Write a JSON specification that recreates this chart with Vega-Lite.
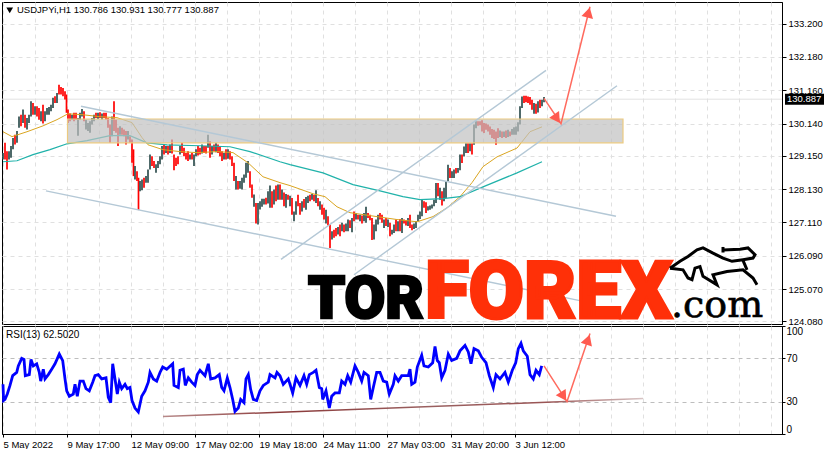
{
  "$schema": "https://vega.github.io/schema/vega-lite/v6.json",
  "background": "white",
  "padding": {"left": -4, "top": 1, "right": 0, "bottom": 0},
  "spacing": 2,
  "bounds": "flush",
  "config": {
    "view": {"stroke": "black", "strokeWidth": 1},
    "font": "Liberation Sans",
    "axis": {"title": null, "gridDash": [4, 4], "gridColor": "#e0e0e0", "gridWidth": 1, "labelColor": "black", "tickColor": "black", "domainColor": "black"}
  },
  "datasets": {
    "candles": [
      {"bar":1,"price":129.24,"price2":129.04,"side":"up"},{"bar":3,"price":129.55,"price2":129.04,"side":"down"},{"bar":5,"price":129.29,"price2":128.73,"side":"down"},{"bar":7,"price":129.29,"price2":129.04,"side":"up"},{"bar":9,"price":129.45,"price2":129.09,"side":"up"},{"bar":11,"price":129.70,"price2":129.35,"side":"up"},{"bar":13,"price":129.80,"price2":129.50,"side":"down"},{"bar":15,"price":129.91,"price2":129.55,"side":"up"},{"bar":17,"price":130.36,"price2":130.01,"side":"up"},{"bar":19,"price":130.41,"price2":130.06,"side":"down"},
      {"bar":21,"price":130.57,"price2":130.16,"side":"up"},{"bar":23,"price":130.41,"price2":130.01,"side":"down"},{"bar":25,"price":130.31,"price2":129.96,"side":"up"},{"bar":27,"price":130.41,"price2":130.16,"side":"up"},{"bar":29,"price":130.82,"price2":130.36,"side":"up"},{"bar":31,"price":130.77,"price2":130.41,"side":"down"},{"bar":33,"price":130.67,"price2":130.41,"side":"up"},{"bar":35,"price":130.67,"price2":130.36,"side":"down"},{"bar":37,"price":130.62,"price2":130.26,"side":"down"},{"bar":39,"price":130.52,"price2":130.21,"side":"up"},
      {"bar":41,"price":130.72,"price2":130.14,"side":"down"},{"bar":43,"price":130.52,"price2":130.21,"side":"up"},{"bar":45,"price":130.62,"price2":130.41,"side":"up"},{"bar":47,"price":130.65,"price2":130.41,"side":"up"},{"bar":49,"price":130.72,"price2":130.52,"side":"up"},{"bar":51,"price":130.93,"price2":130.62,"side":"up"},{"bar":53,"price":130.98,"price2":130.77,"side":"down"},{"bar":55,"price":131.08,"price2":130.77,"side":"up"},{"bar":57,"price":131.33,"price2":131.03,"side":"down"},{"bar":59,"price":131.26,"price2":131.03,"side":"down"},
      {"bar":61,"price":131.23,"price2":130.98,"side":"down"},{"bar":63,"price":131.13,"price2":130.88,"side":"down"},{"bar":64.5,"price":131.03,"price2":130.47,"side":"down"},{"bar":66,"price":130.57,"price2":130.16,"side":"down"},{"bar":68,"price":130.45,"price2":130.21,"side":"down"},{"bar":70,"price":130.41,"price2":130.26,"side":"up"},{"bar":72,"price":130.47,"price2":130.21,"side":"down"},{"bar":74,"price":130.47,"price2":130.26,"side":"down"},{"bar":76,"price":130.31,"price2":129.77,"side":"up"},{"bar":78,"price":130.47,"price2":130.26,"side":"up"},
      {"bar":80,"price":130.59,"price2":130.36,"side":"up"},{"bar":82,"price":130.52,"price2":130.21,"side":"down"},{"bar":84,"price":130.26,"price2":129.96,"side":"up"},{"bar":86,"price":130.16,"price2":129.91,"side":"up"},{"bar":88,"price":130.21,"price2":129.86,"side":"up"},{"bar":90,"price":130.31,"price2":130.11,"side":"up"},{"bar":92,"price":130.41,"price2":130.21,"side":"up"},{"bar":94,"price":130.47,"price2":130.31,"side":"down"},{"bar":96,"price":130.47,"price2":130.28,"side":"up"},{"bar":98,"price":130.49,"price2":130.31,"side":"down"},
      {"bar":100,"price":130.45,"price2":130.26,"side":"up"},{"bar":102,"price":130.47,"price2":130.31,"side":"down"},{"bar":104,"price":130.47,"price2":130.26,"side":"down"},{"bar":106,"price":130.31,"price2":130.01,"side":"down"},{"bar":108,"price":130.11,"price2":129.55,"side":"down"},{"bar":110,"price":130.36,"price2":129.75,"side":"up"},{"bar":112,"price":130.82,"price2":129.91,"side":"down"},{"bar":114,"price":130.26,"price2":129.86,"side":"down"},{"bar":116,"price":130.01,"price2":129.45,"side":"down"},{"bar":118,"price":130.06,"price2":129.80,"side":"up"},
      {"bar":120,"price":130.01,"price2":129.80,"side":"down"},{"bar":122,"price":129.96,"price2":129.75,"side":"down"},{"bar":124,"price":129.91,"price2":129.50,"side":"down"},{"bar":126,"price":129.91,"price2":129.65,"side":"up"},{"bar":128,"price":129.75,"price2":129.55,"side":"down"},{"bar":130,"price":129.65,"price2":128.94,"side":"down"},{"bar":131.5,"price":129.35,"price2":128.53,"side":"down"},{"bar":133,"price":128.84,"price2":128.43,"side":"up"},{"bar":135,"price":128.68,"price2":128.38,"side":"down"},{"bar":136.5,"price":128.48,"price2":127.49,"side":"down"},
      {"bar":138,"price":128.38,"price2":128.07,"side":"up"},{"bar":140,"price":128.43,"price2":128.10,"side":"up"},{"bar":142,"price":128.48,"price2":128.17,"side":"down"},{"bar":144,"price":128.53,"price2":128.33,"side":"up"},{"bar":146,"price":128.73,"price2":128.33,"side":"up"},{"bar":148,"price":129.19,"price2":128.73,"side":"up"},{"bar":150,"price":129.14,"price2":128.84,"side":"down"},{"bar":152,"price":128.99,"price2":128.78,"side":"down"},{"bar":154,"price":128.89,"price2":128.63,"side":"up"},{"bar":156,"price":128.99,"price2":128.78,"side":"up"},
      {"bar":158,"price":129.14,"price2":128.89,"side":"up"},{"bar":160,"price":129.45,"price2":129.04,"side":"up"},{"bar":162,"price":129.50,"price2":129.19,"side":"down"},{"bar":164,"price":129.45,"price2":129.24,"side":"up"},{"bar":166,"price":129.45,"price2":129.19,"side":"down"},{"bar":168,"price":129.50,"price2":129.24,"side":"up"},{"bar":170,"price":129.65,"price2":129.22,"side":"down"},{"bar":172,"price":129.19,"price2":128.71,"side":"down"},{"bar":174,"price":129.09,"price2":128.84,"side":"down"},{"bar":176,"price":129.14,"price2":128.89,"side":"down"},
      {"bar":178,"price":129.45,"price2":129.19,"side":"up"},{"bar":180,"price":129.55,"price2":129.24,"side":"down"},{"bar":182,"price":129.40,"price2":129.14,"side":"down"},{"bar":184,"price":129.24,"price2":129.04,"side":"down"},{"bar":186,"price":129.29,"price2":128.99,"side":"down"},{"bar":188,"price":129.19,"price2":129.04,"side":"up"},{"bar":190,"price":129.24,"price2":129.04,"side":"down"},{"bar":192,"price":129.19,"price2":128.84,"side":"up"},{"bar":194,"price":129.35,"price2":129.14,"side":"up"},{"bar":196,"price":129.45,"price2":129.16,"side":"down"},
      {"bar":198,"price":129.40,"price2":129.19,"side":"down"},{"bar":200,"price":129.50,"price2":129.22,"side":"up"},{"bar":202,"price":129.45,"price2":129.24,"side":"down"},{"bar":204,"price":129.45,"price2":129.22,"side":"down"},{"bar":206,"price":129.80,"price2":129.40,"side":"up"},{"bar":208,"price":129.60,"price2":129.09,"side":"down"},{"bar":210,"price":129.45,"price2":129.19,"side":"up"},{"bar":212,"price":129.50,"price2":129.29,"side":"down"},{"bar":214,"price":129.55,"price2":129.26,"side":"up"},{"bar":216,"price":129.50,"price2":129.24,"side":"down"},
      {"bar":218,"price":129.45,"price2":129.14,"side":"down"},{"bar":220,"price":129.29,"price2":128.99,"side":"down"},{"bar":222,"price":129.24,"price2":129.04,"side":"up"},{"bar":224,"price":129.35,"price2":129.04,"side":"down"},{"bar":226,"price":129.35,"price2":129.06,"side":"up"},{"bar":228,"price":129.29,"price2":129.04,"side":"down"},{"bar":230,"price":129.14,"price2":128.84,"side":"down"},{"bar":232,"price":128.94,"price2":128.38,"side":"down"},{"bar":234,"price":128.53,"price2":128.12,"side":"up"},{"bar":236,"price":128.38,"price2":128.12,"side":"down"},
      {"bar":238,"price":128.38,"price2":128.14,"side":"up"},{"bar":240,"price":128.48,"price2":128.12,"side":"up"},{"bar":242,"price":128.58,"price2":128.33,"side":"up"},{"bar":244,"price":128.94,"price2":128.48,"side":"up"},{"bar":246,"price":128.99,"price2":128.63,"side":"up"},{"bar":248,"price":128.68,"price2":128.17,"side":"down"},{"bar":250,"price":128.27,"price2":127.87,"side":"down"},{"bar":252,"price":127.97,"price2":127.59,"side":"up"},{"bar":254,"price":127.71,"price2":127.08,"side":"down"},{"bar":256,"price":127.71,"price2":127.05,"side":"up"},
      {"bar":258,"price":127.76,"price2":127.51,"side":"up"},{"bar":260,"price":127.84,"price2":127.59,"side":"up"},{"bar":262,"price":127.84,"price2":127.66,"side":"up"},{"bar":264,"price":127.87,"price2":127.66,"side":"down"},{"bar":266,"price":128.07,"price2":127.69,"side":"up"},
      {"bar":268,"price":128.24,"price2":127.56,"side":"up"},{"bar":270,"price":128.07,"price2":127.56,"side":"down"},{"bar":272,"price":128.12,"price2":127.66,"side":"up"},{"bar":274,"price":128.24,"price2":127.76,"side":"down"},{"bar":276,"price":128.27,"price2":127.81,"side":"up"},{"bar":278,"price":128.27,"price2":127.81,"side":"down"},{"bar":280,"price":128.12,"price2":127.81,"side":"up"},{"bar":282,"price":128.03,"price2":127.61,"side":"down"},{"bar":284,"price":127.98,"price2":127.56,"side":"up"},{"bar":286,"price":127.96,"price2":127.81,"side":"down"},
      {"bar":288,"price":127.93,"price2":127.61,"side":"up"},{"bar":290,"price":127.86,"price2":127.35,"side":"down"},{"bar":292,"price":127.45,"price2":127.15,"side":"up"},{"bar":294,"price":127.76,"price2":127.35,"side":"up"},{"bar":296,"price":127.96,"price2":127.61,"side":"down"},{"bar":298,"price":127.71,"price2":127.35,"side":"down"},{"bar":300,"price":127.76,"price2":127.45,"side":"up"},{"bar":302,"price":127.83,"price2":127.56,"side":"down"},{"bar":304,"price":127.89,"price2":127.50,"side":"up"},{"bar":306,"price":127.93,"price2":127.71,"side":"up"},
      {"bar":308,"price":127.96,"price2":127.76,"side":"down"},{"bar":310,"price":127.98,"price2":127.81,"side":"up"},{"bar":312,"price":127.96,"price2":127.76,"side":"down"},{"bar":314,"price":128.10,"price2":127.71,"side":"up"},{"bar":316,"price":127.86,"price2":127.61,"side":"down"},{"bar":318,"price":127.76,"price2":127.50,"side":"up"},{"bar":320,"price":127.66,"price2":127.35,"side":"down"},{"bar":322,"price":127.56,"price2":127.20,"side":"down"},{"bar":324,"price":127.50,"price2":127.08,"side":"up"},{"bar":326,"price":127.30,"price2":127.02,"side":"down"},
      {"bar":328,"price":127.05,"price2":126.33,"side":"down"},{"bar":330,"price":126.84,"price2":126.59,"side":"up"},{"bar":332,"price":126.89,"price2":126.64,"side":"down"},{"bar":334,"price":126.94,"price2":126.69,"side":"down"},{"bar":336,"price":126.97,"price2":126.74,"side":"up"},{"bar":338,"price":127.05,"price2":126.69,"side":"down"},{"bar":340,"price":127.10,"price2":126.84,"side":"up"},{"bar":342,"price":127.05,"price2":126.81,"side":"down"},{"bar":344,"price":127.08,"price2":126.84,"side":"up"},{"bar":346,"price":127.20,"price2":126.84,"side":"up"},
      {"bar":348,"price":127.18,"price2":126.94,"side":"down"},{"bar":350,"price":127.25,"price2":126.81,"side":"up"},{"bar":352,"price":127.45,"price2":127.15,"side":"down"},{"bar":354,"price":127.40,"price2":127.20,"side":"up"},{"bar":356,"price":127.35,"price2":127.20,"side":"down"},{"bar":358,"price":127.35,"price2":127.15,"side":"up"},{"bar":360,"price":127.32,"price2":127.08,"side":"down"},{"bar":362,"price":127.40,"price2":127.15,"side":"up"},{"bar":364,"price":127.59,"price2":127.10,"side":"up"},{"bar":366,"price":127.40,"price2":127.25,"side":"down"},
      {"bar":368,"price":127.35,"price2":127.18,"side":"down"},{"bar":370,"price":127.25,"price2":126.57,"side":"down"},{"bar":372,"price":127.05,"price2":126.59,"side":"up"},{"bar":374,"price":127.20,"price2":126.84,"side":"up"},{"bar":376,"price":127.35,"price2":127.05,"side":"up"},{"bar":378,"price":127.40,"price2":127.20,"side":"down"},{"bar":380,"price":127.35,"price2":127.10,"side":"down"},{"bar":382,"price":127.20,"price2":126.94,"side":"up"},{"bar":384,"price":127.25,"price2":127.00,"side":"down"},{"bar":386,"price":127.20,"price2":126.97,"side":"up"},
      {"bar":388,"price":127.10,"price2":126.69,"side":"down"},{"bar":390,"price":126.89,"price2":126.74,"side":"up"},{"bar":392,"price":127.05,"price2":126.79,"side":"up"},{"bar":394,"price":127.20,"price2":126.84,"side":"down"},{"bar":396,"price":127.15,"price2":126.84,"side":"up"},{"bar":398,"price":127.22,"price2":126.84,"side":"down"},{"bar":400,"price":127.25,"price2":126.79,"side":"up"},{"bar":402,"price":127.20,"price2":127.08,"side":"down"},{"bar":404,"price":127.18,"price2":127.02,"side":"down"},{"bar":406,"price":127.25,"price2":127.00,"side":"up"},
      {"bar":408,"price":127.35,"price2":126.94,"side":"down"},{"bar":410,"price":127.05,"price2":126.87,"side":"down"},{"bar":412,"price":127.08,"price2":126.91,"side":"up"},{"bar":414,"price":127.15,"price2":126.94,"side":"up"},{"bar":416,"price":127.35,"price2":127.15,"side":"up"},{"bar":418,"price":127.45,"price2":127.22,"side":"up"},{"bar":420,"price":127.81,"price2":127.30,"side":"up"},{"bar":422,"price":127.76,"price2":127.56,"side":"down"},{"bar":424,"price":127.73,"price2":127.40,"side":"down"},{"bar":426,"price":127.61,"price2":127.48,"side":"up"},
      {"bar":428,"price":127.63,"price2":127.50,"side":"up"},{"bar":430,"price":127.66,"price2":127.54,"side":"up"},{"bar":432,"price":127.81,"price2":127.61,"side":"up"},{"bar":434,"price":128.32,"price2":127.71,"side":"up"},{"bar":436,"price":128.32,"price2":127.91,"side":"down"},{"bar":438,"price":128.17,"price2":127.81,"side":"up"},{"bar":440,"price":128.07,"price2":127.63,"side":"down"},{"bar":442,"price":128.17,"price2":127.76,"side":"up"},{"bar":444,"price":128.37,"price2":127.86,"side":"up"},{"bar":446,"price":128.88,"price2":128.37,"side":"up"},
      {"bar":448,"price":128.78,"price2":128.47,"side":"down"},{"bar":450,"price":128.68,"price2":128.47,"side":"up"},{"bar":452,"price":128.73,"price2":128.47,"side":"up"},{"bar":454,"price":128.78,"price2":128.61,"side":"down"},{"bar":456,"price":128.78,"price2":128.63,"side":"up"},{"bar":458,"price":129.19,"price2":128.71,"side":"up"},{"bar":460,"price":129.19,"price2":128.93,"side":"down"},{"bar":462,"price":129.44,"price2":129.13,"side":"up"},{"bar":464,"price":129.54,"price2":129.24,"side":"up"},{"bar":466,"price":129.54,"price2":129.24,"side":"down"},
      {"bar":468,"price":129.54,"price2":129.29,"side":"up"},{"bar":470,"price":129.54,"price2":129.19,"side":"down"},{"bar":472,"price":130.11,"price2":129.49,"side":"up"},{"bar":474,"price":130.21,"price2":130.00,"side":"up"},{"bar":476,"price":130.21,"price2":130.07,"side":"down"},{"bar":478,"price":130.21,"price2":130.09,"side":"down"},{"bar":480,"price":130.24,"price2":129.90,"side":"down"},{"bar":482,"price":130.16,"price2":129.85,"side":"down"},{"bar":484,"price":130.14,"price2":129.95,"side":"down"},{"bar":486,"price":130.11,"price2":129.90,"side":"down"},
      {"bar":488,"price":130.05,"price2":129.80,"side":"down"},{"bar":490,"price":129.97,"price2":129.70,"side":"down"},{"bar":492,"price":129.95,"price2":129.67,"side":"down"},{"bar":494,"price":129.90,"price2":129.49,"side":"down"},{"bar":496,"price":130.00,"price2":129.70,"side":"down"},{"bar":498,"price":129.93,"price2":129.73,"side":"up"},{"bar":500,"price":129.90,"price2":129.70,"side":"down"},{"bar":502,"price":129.90,"price2":129.73,"side":"up"},{"bar":504,"price":129.93,"price2":129.70,"side":"down"},{"bar":506,"price":129.95,"price2":129.73,"side":"up"},
      {"bar":508,"price":129.90,"price2":129.75,"side":"down"},{"bar":510,"price":129.97,"price2":129.80,"side":"up"},{"bar":512,"price":130.03,"price2":129.80,"side":"up"},{"bar":514,"price":130.05,"price2":129.80,"side":"up"},{"bar":516,"price":130.18,"price2":129.90,"side":"up"},{"bar":518,"price":130.67,"price2":130.11,"side":"up"},{"bar":520,"price":130.97,"price2":130.62,"side":"up"},{"bar":522,"price":130.99,"price2":130.77,"side":"down"},{"bar":524,"price":130.99,"price2":130.79,"side":"down"},{"bar":526,"price":130.97,"price2":130.77,"side":"down"},
      {"bar":528,"price":130.95,"price2":130.72,"side":"down"},{"bar":530,"price":130.87,"price2":130.56,"side":"down"},{"bar":532,"price":130.77,"price2":130.44,"side":"up"},{"bar":534,"price":130.75,"price2":130.44,"side":"down"},{"bar":536,"price":130.82,"price2":130.48,"side":"up"},{"bar":538,"price":130.87,"price2":130.62,"side":"down"},{"bar":540,"price":130.87,"price2":130.67,"side":"up"},{"bar":542,"price":130.95,"price2":130.79,"side":"up"}
    ],
    "slowMa": [
      {"bar":1,"price":129.89},{"bar":10,"price":129.74},{"bar":25,"price":129.89},{"bar":41,"price":130.07},{"bar":55,"price":130.26},{"bar":66,"price":130.44},{"bar":81,"price":130.41},{"bar":98,"price":130.35},{"bar":115,"price":130.32},{"bar":130,"price":130.17},{"bar":140,"price":129.71},{"bar":146,"price":129.49},{"bar":161,"price":129.34},{"bar":178,"price":129.28},{"bar":195,"price":129.25},{"bar":215,"price":129.28},{"bar":231,"price":129.25},{"bar":246,"price":128.94},{"bar":261,"price":128.51},{"bar":278,"price":128.33},{"bar":288,"price":128.24},{"bar":311,"price":127.99},{"bar":323,"price":127.9},{"bar":335,"price":127.59},{"bar":348,"price":127.41},{"bar":368,"price":127.32},{"bar":395,"price":127.2},{"bar":415,"price":127.13},{"bar":431,"price":127.29},{"bar":445,"price":127.56},{"bar":458,"price":127.9},{"bar":470,"price":128.33},{"bar":481,"price":128.82},{"bar":495,"price":129.12},{"bar":515,"price":129.39},{"bar":528,"price":129.89},{"bar":540,"price":130.04}
    ],
    "fastMa": [
      {"bar":1,"price":128.97},{"bar":15,"price":129.0},{"bar":31,"price":129.19},{"bar":48,"price":129.34},{"bar":65,"price":129.52},{"bar":85,"price":129.62},{"bar":108,"price":129.77},{"bar":128,"price":129.77},{"bar":145,"price":129.55},{"bar":165,"price":129.49},{"bar":198,"price":129.46},{"bar":228,"price":129.43},{"bar":248,"price":129.28},{"bar":278,"price":128.97},{"bar":288,"price":128.88},{"bar":321,"price":128.63},{"bar":351,"price":128.27},{"bar":378,"price":128.08},{"bar":401,"price":127.9},{"bar":418,"price":127.81},{"bar":441,"price":127.84},{"bar":458,"price":127.9},{"bar":481,"price":128.2},{"bar":515,"price":128.63},{"bar":540,"price":128.97}
    ],
    "rsi": [
      {"bar":1,"value":46},{"bar":1.6,"value":31},{"bar":3,"value":32},{"bar":5.3,"value":37},{"bar":8,"value":45},{"bar":10.7,"value":54},{"bar":14.7,"value":57},{"bar":16.3,"value":63},{"bar":19.7,"value":70},{"bar":22,"value":69},{"bar":23.3,"value":54},{"bar":27.3,"value":55},{"bar":29,"value":69},{"bar":31.3,"value":63},{"bar":34.7,"value":65},{"bar":37.3,"value":57},{"bar":38.7,"value":49},{"bar":41.3,"value":60},{"bar":43,"value":51},{"bar":46.3,"value":55},{"bar":49.7,"value":60},{"bar":53,"value":65},{"bar":57.3,"value":74},{"bar":60.7,"value":68},{"bar":63,"value":51},{"bar":64.7,"value":40},{"bar":67.3,"value":35},{"bar":71.3,"value":37},{"bar":73,"value":46},{"bar":75.3,"value":35},{"bar":78,"value":49},{"bar":81.3,"value":49},{"bar":84,"value":42},{"bar":87.3,"value":40},{"bar":90.7,"value":48},{"bar":93,"value":54},{"bar":96.3,"value":55},{"bar":99.7,"value":51},{"bar":104,"value":52},{"bar":106.3,"value":34},{"bar":108.7,"value":29},{"bar":110.7,"value":65},{"bar":113,"value":51},{"bar":115.3,"value":37},{"bar":117.3,"value":48},{"bar":119.7,"value":42},{"bar":123,"value":46},{"bar":125.3,"value":42},{"bar":128,"value":43},{"bar":130,"value":31},{"bar":133,"value":24},{"bar":136.3,"value":20.4},{"bar":139.7,"value":35},{"bar":143,"value":40},{"bar":146.3,"value":48},{"bar":148,"value":57},{"bar":151.3,"value":51},{"bar":154.7,"value":49},{"bar":158,"value":57},{"bar":160.7,"value":62},{"bar":164.7,"value":60},{"bar":170.7,"value":65},{"bar":172,"value":45},{"bar":176.3,"value":43},{"bar":178,"value":59},{"bar":181.3,"value":60},{"bar":183.3,"value":45},{"bar":186.3,"value":52},{"bar":189.7,"value":48},{"bar":193,"value":45},{"bar":195.3,"value":55},{"bar":198,"value":59},{"bar":203,"value":54},{"bar":206.3,"value":65},{"bar":208.7,"value":51},{"bar":213,"value":52},{"bar":217.3,"value":55},{"bar":219.7,"value":43},{"bar":222,"value":40},{"bar":225.3,"value":52},{"bar":228,"value":43},{"bar":230.7,"value":32},{"bar":233,"value":21},{"bar":236.3,"value":24},{"bar":238.7,"value":32},{"bar":242,"value":29},{"bar":244,"value":51},{"bar":246.3,"value":55},{"bar":248.7,"value":41},{"bar":251.3,"value":32},{"bar":254.7,"value":31},{"bar":258,"value":40},{"bar":261.3,"value":45},{"bar":266.3,"value":48},{"bar":268,"value":55},{"bar":273,"value":52},{"bar":275,"value":57},{"bar":278,"value":54},
      {"bar":281.3,"value":46},{"bar":286.3,"value":51},{"bar":290.7,"value":38},{"bar":294,"value":52},{"bar":298,"value":45},{"bar":302,"value":54},{"bar":304.7,"value":46},{"bar":307.3,"value":55},{"bar":311.3,"value":57},{"bar":314,"value":59},{"bar":317.3,"value":43},{"bar":319.7,"value":42},{"bar":320.7,"value":32},{"bar":324,"value":40},{"bar":327.3,"value":24},{"bar":329.7,"value":35},{"bar":333,"value":38},{"bar":337.3,"value":38},{"bar":339.7,"value":49},{"bar":343,"value":46},{"bar":345.7,"value":54},{"bar":348.7,"value":48},{"bar":353,"value":63},{"bar":356.3,"value":57},{"bar":359.7,"value":49},{"bar":362,"value":57},{"bar":366.3,"value":54},{"bar":368.7,"value":32},{"bar":371.3,"value":43},{"bar":374.7,"value":57},{"bar":378,"value":57},{"bar":381.3,"value":49},{"bar":384.7,"value":48},{"bar":387.3,"value":37},{"bar":391.3,"value":46},{"bar":393,"value":54},{"bar":396.3,"value":49},{"bar":399.7,"value":54},{"bar":406.3,"value":54},{"bar":408,"value":60},{"bar":409.7,"value":46},{"bar":413,"value":48},{"bar":415.3,"value":62},{"bar":419.7,"value":73},{"bar":422,"value":63},{"bar":426.3,"value":62},{"bar":430.7,"value":66},{"bar":433,"value":81},{"bar":435.3,"value":68},{"bar":437.3,"value":66},{"bar":439.7,"value":52},{"bar":443,"value":59},{"bar":446.3,"value":74},{"bar":449.7,"value":68},{"bar":454.7,"value":70},{"bar":458,"value":77},{"bar":463,"value":82},{"bar":466.3,"value":76},{"bar":469,"value":65},{"bar":472,"value":79},{"bar":476.3,"value":77},{"bar":479.7,"value":71},{"bar":484,"value":66},{"bar":487.3,"value":54},{"bar":491.3,"value":43},{"bar":494,"value":55},{"bar":498,"value":51},{"bar":503,"value":57},{"bar":506.3,"value":48},{"bar":510.3,"value":59},{"bar":513.7,"value":66},{"bar":516.3,"value":79},{"bar":519,"value":84},{"bar":521.3,"value":77},{"bar":525.3,"value":72},{"bar":528,"value":55},{"bar":531.3,"value":51},{"bar":534,"value":59},{"bar":537.3,"value":55},{"bar":539.7,"value":63}
    ]
  },
  "vconcat": [
    {
      "width": 780,
      "height": 322,
      "encoding": {
        "x": {
          "field": "bar",
          "type": "quantitative",
          "scale": {"domain": [0, 780], "nice": false, "zero": false},
          "axis": {"labels": false, "ticks": false, "domain": false, "values": [1,33,65,97,129,161,193,225,257,289,321,353,385,417,449,481,513,545,577,609,641,673,705,737,769]}
        },
        "y": {
          "field": "price",
          "type": "quantitative",
          "scale": {"domain": [124.0, 133.864], "nice": false, "zero": false},
          "axis": {"orient": "right", "values": [124.08,125.07,126.09,127.11,128.13,129.15,130.14,131.16,132.18,133.2], "format": ".3f", "labelFont": "Liberation Sans", "labelFontSize": 9.5, "labelPadding": 2, "tickSize": 4, "labelOverlap": false}
        }
      },
      "layer": [
        {
          "data": {"values": [{"bar":0,"price":130.887},{"bar":780,"price":130.887}]},
          "mark": {"type": "line", "color": "#e2e2e2", "strokeWidth": 1}
        },
        {
          "data": {"name": "candles"},
          "mark": {"type": "rule", "strokeWidth": 1.7},
          "encoding": {
            "y2": {"field": "price2"},
            "color": {"field": "side", "type": "nominal", "legend": null, "scale": {"domain": ["up", "down"], "range": ["#2f4f4f", "#ff0000"]}}
          }
        },
        {
          "data": {"name": "slowMa"},
          "mark": {"type": "line", "color": "#daa520", "strokeWidth": 1}
        },
        {
          "data": {"name": "fastMa"},
          "mark": {"type": "line", "color": "#20b2aa", "strokeWidth": 1.2}
        },
        {
          "data": {"values": [{"bar":65.5,"bar2":621,"price":130.28,"price2":129.55}]},
          "mark": {"type": "rect", "fill": "#c0c0c0", "fillOpacity": 0.7, "stroke": "#ecca80", "strokeWidth": 1.2},
          "encoding": {"x2": {"field": "bar2"}, "y2": {"field": "price2"}}
        },
        {
          "data": {"values": [
            {"trend":"a","bar":79,"price":130.67},{"trend":"a","bar":614,"price":127.3},
            {"trend":"b","bar":44,"price":128.08},{"trend":"b","bar":579,"price":124.71},
            {"trend":"c","bar":279,"price":125.98},{"trend":"c","bar":544,"price":131.77},
            {"trend":"d","bar":352,"price":125.51},{"trend":"d","bar":615,"price":131.3}
          ]},
          "mark": {"type": "line", "color": "#b4c8d6", "strokeWidth": 1.4},
          "encoding": {"detail": {"field": "trend"}}
        },
        {
          "data": {"values": [{"bar":542,"price":130.91},{"bar":559,"price":130.14},{"bar":588,"price":133.72}]},
          "mark": {"type": "line", "color": "#ff6a5e", "strokeWidth": 1.5},
          "encoding": {"order": {"field": "bar"}}
        },
        {
          "data": {"values": [{"bar":555,"price":130.29,"heading":146},{"bar":586.5,"price":133.54,"heading":14}]},
          "mark": {"type": "point", "shape": "triangle-up", "filled": true, "color": "#ff5a50", "opacity": 1, "size": 140},
          "encoding": {"angle": {"field": "heading", "type": "quantitative", "scale": null}}
        },
        {
          "data": {"values": [{"label":"TOR","bar":306,"price":124.19}]},
          "mark": {"type": "text", "align": "left", "baseline": "alphabetic", "font": "Roboto", "fontWeight": 900, "fontSize": 59, "color": "black", "stroke": "black", "strokeWidth": 2.5},
          "encoding": {"text": {"field": "label"}}
        },
        {
          "data": {"values": [{"label":"FOREX","bar":423,"price":124.19}]},
          "mark": {"type": "text", "align": "left", "baseline": "alphabetic", "font": "Roboto", "fontWeight": 900, "fontSize": 80, "color": "#ff3008", "stroke": "#ff3008", "strokeWidth": 3},
          "encoding": {"text": {"field": "label"}}
        },
        {
          "data": {"values": [{"label":".com","bar":669,"price":124.22}]},
          "mark": {"type": "text", "align": "left", "baseline": "alphabetic", "font": "DejaVu Serif", "fontSize": 38, "color": "black", "stroke": "black", "strokeWidth": 0.6},
          "encoding": {"text": {"field": "label"}}
        },
        {
          "data": {"values": [
            {"part":"back","step":1,"bar":668,"price":125.71},{"part":"back","step":2,"bar":678,"price":125.92},{"part":"back","step":3,"bar":686,"price":126.07},{"part":"back","step":4,"bar":695,"price":126.27},{"part":"back","step":5,"bar":701,"price":126.33},{"part":"back","step":6,"bar":711,"price":126.17},{"part":"back","step":7,"bar":721,"price":126.02},{"part":"back","step":8,"bar":730,"price":125.92},{"part":"back","step":9,"bar":741,"price":125.97},{"part":"back","step":10,"bar":751,"price":126.02},{"part":"back","step":11,"bar":753,"price":126.12},{"part":"back","step":12,"bar":746,"price":126.33},{"part":"back","step":13,"bar":738,"price":126.29},{"part":"back","step":14,"bar":721,"price":126.27},
            {"part":"belly","step":1,"bar":668,"price":125.71},{"part":"belly","step":2,"bar":681,"price":125.66},{"part":"belly","step":3,"bar":686,"price":125.41},{"part":"belly","step":4,"bar":690,"price":125.36},{"part":"belly","step":5,"bar":693,"price":125.71},{"part":"belly","step":6,"bar":698,"price":125.76},{"part":"belly","step":7,"bar":701,"price":125.46},{"part":"belly","step":8,"bar":715,"price":125.2},{"part":"belly","step":9,"bar":711,"price":125.51},{"part":"belly","step":10,"bar":725,"price":125.61},{"part":"belly","step":11,"bar":741,"price":125.66},{"part":"belly","step":12,"bar":751,"price":125.41},{"part":"belly","step":13,"bar":755,"price":125.2},
            {"part":"hip","step":1,"bar":741,"price":125.95},{"part":"hip","step":2,"bar":745,"price":125.66},
            {"part":"tail","step":1,"bar":721,"price":126.36},{"part":"tail","step":2,"bar":721,"price":126.19}
          ]},
          "mark": {"type": "line", "color": "black", "strokeWidth": 3},
          "encoding": {"detail": {"field": "part"}, "order": {"field": "step"}}
        },
        {
          "data": {"values": [{"bar":7.7,"price":133.61}]},
          "mark": {"type": "point", "shape": "triangle-down", "filled": true, "color": "black", "opacity": 1, "size": 45}
        },
        {
          "data": {"values": [{"label":"USDJPYi,H1  130.786 130.931 130.777 130.887","bar":15,"price":133.61}]},
          "mark": {"type": "text", "align": "left", "baseline": "middle", "fontSize": 9.5, "color": "black"},
          "encoding": {"text": {"field": "label"}}
        },
        {
          "data": {"values": [{"bar":783,"bar2":822,"price":131.05,"price2":130.72}]},
          "mark": {"type": "rect", "color": "black"},
          "encoding": {"x2": {"field": "bar2"}, "y2": {"field": "price2"}}
        },
        {
          "data": {"values": [{"label":"130.887","bar":785,"price":130.887}]},
          "mark": {"type": "text", "align": "left", "baseline": "middle", "fontSize": 9.5, "color": "white"},
          "encoding": {"text": {"field": "label"}}
        }
      ]
    },
    {
      "width": 780,
      "height": 108,
      "encoding": {
        "x": {
          "field": "bar",
          "type": "quantitative",
          "scale": {"domain": [0, 780], "nice": false, "zero": false},
          "axis": {
            "values": [1,33,65,97,129,161,193,225,257,289,321,353,385,417,449,481,513,545,577,609,641,673,705,737,769],
            "labelExpr": "['5 May 2022','9 May 17:00','12 May 09:00','17 May 02:00','19 May 18:00','24 May 11:00','27 May 03:00','31 May 20:00','3 Jun 12:00'][(datum.value-1)/64]||''",
            "labelAlign": "left",
            "labelFontSize": 9.5,
            "labelOverlap": false,
            "labelPadding": 2,
            "tickSize": 3,
            "tickOpacity": {"condition": {"test": "(datum.value-1)%64==0 && datum.value<=513", "value": 1}, "value": 0}
          }
        },
        "y": {
          "field": "value",
          "type": "quantitative",
          "scale": {"domain": [0, 100], "nice": false, "zero": false},
          "axis": {
            "orient": "right",
            "values": [0, 30, 70, 100],
            "labelFlush": true,
            "labelFontSize": 10,
            "labelPadding": 1,
            "tickSize": 3,
            "gridColor": "#bdbdbd",
            "gridOpacity": {"condition": {"test": "datum.value==0||datum.value==100", "value": 0}, "value": 1}
          }
        }
      },
      "layer": [
        {
          "data": {"values": [{"bar":161,"value":16.1},{"bar":641,"value":32.8}]},
          "mark": {"type": "line", "strokeWidth": 1.5, "color": {"gradient": "linear", "x1": 0, "x2": 1, "y1": 0, "y2": 0, "stops": [{"offset": 0, "color": "#b88a8a"}, {"offset": 0.25, "color": "#8b3a3a"}, {"offset": 0.55, "color": "#9a6060"}, {"offset": 0.8, "color": "#9a5555"}, {"offset": 1, "color": "#d8c4c4"}]}}
        },
        {
          "data": {"name": "rsi"},
          "mark": {"type": "line", "color": "#0000ff", "strokeWidth": 2.8},
          "encoding": {"order": {"field": "bar"}}
        },
        {
          "data": {"values": [{"bar":542,"value":63},{"bar":565,"value":30},{"bar":588,"value":93}]},
          "mark": {"type": "line", "color": "#ff6a5e", "strokeWidth": 1.5},
          "encoding": {"order": {"field": "bar"}}
        },
        {
          "data": {"values": [{"bar":561.5,"value":34.8,"heading":147},{"bar":586,"value":87.3,"heading":19}]},
          "mark": {"type": "point", "shape": "triangle-up", "filled": true, "color": "#ff5a50", "opacity": 1, "size": 140},
          "encoding": {"angle": {"field": "heading", "type": "quantitative", "scale": null}}
        },
        {
          "data": {"values": [{"label":"RSI(13) 62.5020","bar":4,"value":91.7}]},
          "mark": {"type": "text", "align": "left", "baseline": "middle", "fontSize": 10, "color": "black"},
          "encoding": {"text": {"field": "label"}}
        }
      ]
    }
  ]
}
